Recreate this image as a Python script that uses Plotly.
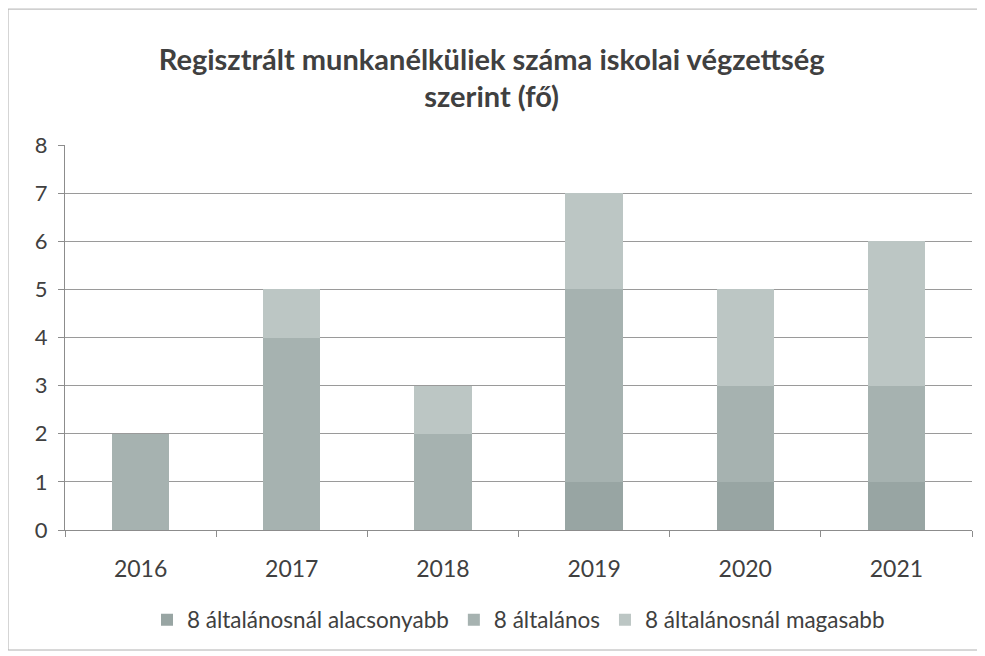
import plotly.graph_objects as go

years = ["2016", "2017", "2018", "2019", "2020", "2021"]
lower = [0, 0, 0, 1, 1, 1]
primary = [2, 4, 2, 4, 2, 2]
higher = [0, 1, 1, 2, 2, 3]

names = ["8 általánosnál alacsonyabb", "8 általános", "8 általánosnál magasabb"]
colors = ["#98a5a3", "#a6b2b0", "#bcc6c4"]

fig = go.Figure()
for vals, name, col in zip([lower, primary, higher], names, colors):
    fig.add_trace(go.Bar(x=years, y=vals, name=name, marker=dict(color=col, line=dict(width=0))))

font_family = "Lato, 'Open Sans', sans-serif"
fig.update_layout(
    barmode="stack",
    bargap=0.62,
    width=985, height=656,
    margin=dict(l=57, r=21, t=137, b=134),
    paper_bgcolor="white", plot_bgcolor="white",
    font=dict(family=font_family, size=21, color="#404040"),
    title=dict(text="<b>Regisztrált munkanélküliek száma iskolai végzettség<br>szerint (fő)</b>",
               x=0.491, xanchor="center", y=0.906, yanchor="top",
               font=dict(size=29, color="#404040", family=font_family)),
    legend=dict(orientation="h", x=0.5, xanchor="center", y=-0.234, yanchor="middle",
                font=dict(size=22.5, color="#404040"), traceorder="normal",
                itemwidth=30),
    showlegend=True,
)
fig.update_xaxes(showline=True, linecolor="#8c8c8c", ticks="outside", tickson="boundaries",
                 ticklen=6, tickcolor="#8c8c8c", showgrid=False, tickfont=dict(size=23),
                 ticklabelstandoff=18)
fig.update_yaxes(range=[0, 8], dtick=1, showgrid=True, gridcolor="#9a9a9a", gridwidth=1,
                 showline=True, linecolor="#8c8c8c", ticks="outside", ticklen=6,
                 tickcolor="#8c8c8c", zeroline=False, tickfont=dict(size=22),
                 ticklabelstandoff=6)
fig.add_shape(type="rect", xref="paper", yref="paper", x0=-0.0628, y0=-0.3117, x1=1.0088, y1=1.353,
              line=dict(color="#b0b0b0", width=1))
fig.write_html("out.html")
